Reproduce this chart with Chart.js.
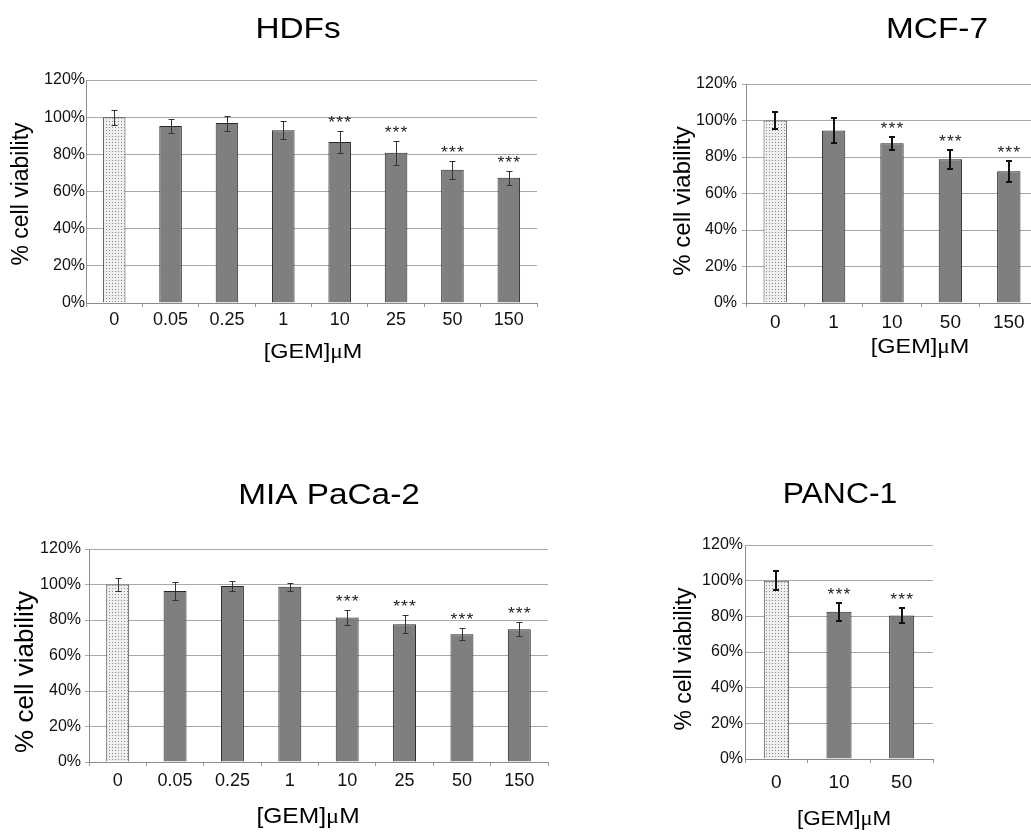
<!DOCTYPE html>
<html><head><meta charset="utf-8">
<script src="https://cdn.jsdelivr.net/npm/chart.js@4.4.1/dist/chart.umd.min.js"></script>
<style>
html,body{margin:0;padding:0;background:#fff;overflow:hidden;width:1031px;height:840px;}
canvas{position:absolute;}
</style></head><body>
<canvas id="c1" width="560" height="380" style="left:0;top:0"></canvas>
<canvas id="c2" width="400" height="380" style="left:660px;top:0"></canvas>
<canvas id="c3" width="560" height="400" style="left:0;top:440px"></canvas>
<canvas id="c4" width="371" height="400" style="left:660px;top:440px"></canvas>
<script>
// ---- data ----
const yTickValues = [0, 20, 40, 60, 80, 100, 120];

const hdfTitle = 'HDFs';
const hdfDoses = ['0', '0.05', '0.25', '1', '10', '25', '50', '150'];
const hdfMeans = [100, 95.3, 96.8, 93.0, 86.6, 80.8, 71.7, 67.4];
const hdfErrors = [4.1, 3.8, 4.0, 4.7, 6.0, 6.6, 4.8, 3.9];
const hdfStars = ['', '', '', '', '***', '***', '***', '***'];

const mcfTitle = 'MCF-7';
const mcfDoses = ['0', '1', '10', '50', '150'];
const mcfMeans = [100, 94.5, 87.5, 78.8, 72.2];
const mcfErrors = [4.9, 6.7, 3.5, 5.3, 5.7];
const mcfStars = ['', '', '***', '***', '***'];

const miaTitle = 'MIA PaCa-2';
const miaDoses = ['0', '0.05', '0.25', '1', '10', '25', '50', '150'];
const miaMeans = [100, 96.4, 99.2, 98.7, 81.4, 77.6, 72.0, 74.8];
const miaErrors = [3.9, 5.1, 3.0, 2.4, 4.2, 5.2, 3.3, 3.8];
const miaStars = ['', '', '', '', '***', '***', '***', '***'];

const pancTitle = 'PANC-1';
const pancDoses = ['0', '10', '50'];
const pancMeans = [100, 82.6, 80.4];
const pancErrors = [5.3, 5.0, 4.0];
const pancStars = ['', '***', '***'];

const yAxisTitle = '% cell viability';
const xAxisTitleParts = ['[GEM]', 'μ', 'M'];

// ---- styling helpers ----
const SANS = '"Liberation Sans", Arial, sans-serif';
const SERIF = '"Liberation Serif", "Times New Roman", serif';

function dotPattern() {
  const c = document.createElement('canvas');
  c.width = 3; c.height = 3;
  const g = c.getContext('2d');
  g.fillStyle = '#efefef'; g.fillRect(0, 0, 3, 3);
  g.fillStyle = '#8a8a8a'; g.fillRect(1, 1, 1, 1);
  return g.createPattern(c, 'repeat');
}

function drawScaled(ctx, parts, cx, baseline, sx) {
  let total = 0;
  const widths = parts.map(p => { ctx.font = p.font; const w = ctx.measureText(p.text).width; total += w; return w; });
  ctx.save();
  ctx.translate(cx, baseline);
  ctx.scale(sx, 1);
  let x = -total / 2;
  ctx.textAlign = 'left';
  ctx.textBaseline = 'alphabetic';
  parts.forEach((p, i) => { ctx.font = p.font; ctx.fillText(p.text, x, 0); x += widths[i]; });
  ctx.restore();
}

const decor = {
  id: 'decor',
  afterDatasetsDraw(chart, args, o) {
    const ctx = chart.ctx, ys = chart.scales.y, meta = chart.getDatasetMeta(0);
    const ds = chart.data.datasets[0];
    ctx.save();
    ctx.strokeStyle = o.errColor;
    ctx.lineWidth = o.errWidth;
    const off = o.errWidth % 2 ? 0.5 : 0;
    meta.data.forEach((bar, i) => {
      const m = ds.data[i], e = o.errors[i];
      const x = Math.round(bar.x) + off;
      const yt = Math.round(ys.getPixelForValue(m + e)) + off;
      const yb = Math.round(ys.getPixelForValue(m - e)) + off;
      ctx.beginPath();
      ctx.moveTo(x, yt); ctx.lineTo(x, yb);
      ctx.moveTo(x - o.capHalf, yt); ctx.lineTo(x + o.capHalf, yt);
      ctx.moveTo(x - o.capHalf, yb); ctx.lineTo(x + o.capHalf, yb);
      ctx.stroke();
      const s = o.stars[i];
      if (s) {
        ctx.fillStyle = '#222';
        ctx.letterSpacing = '1px';
        drawScaled(ctx, [{text: s, font: o.starSize + 'px ' + SANS}], bar.x + 0.5, yt - 3.5, 1.1);
        ctx.letterSpacing = '0px';
      }
    });
    ctx.restore();
  },
  afterDraw(chart, args, o) {
    const ctx = chart.ctx;
    ctx.save();
    ctx.fillStyle = '#000';
    drawScaled(ctx, [{text: o.title, font: o.titleSize + 'px ' + SANS}], o.titleX, o.titleBase, o.sx);
    const xs = o.xTitleSize + 'px ';
    drawScaled(ctx, [
      {text: xAxisTitleParts[0], font: xs + SANS},
      {text: xAxisTitleParts[1], font: xs + SERIF},
      {text: xAxisTitleParts[2], font: xs + SANS}
    ], o.xTitleX, o.xTitleBase, o.sx * 0.97);
    ctx.translate(o.yTitleX, o.yTitleY);
    ctx.rotate(-Math.PI / 2);
    ctx.font = o.yTitleSize + 'px ' + SANS;
    ctx.textAlign = 'center';
    ctx.textBaseline = 'middle';
    ctx.fillText(yAxisTitle, 0, 0);
    ctx.restore();
  }
};

const pattern = dotPattern();

function makeChart(id, doses, means, errors, stars, p) {
  const ctx = document.getElementById(id).getContext('2d');
  return new Chart(ctx, {
    type: 'bar',
    data: {
      labels: doses,
      datasets: [{
        data: means,
        backgroundColor: doses.map((d, i) => i === 0 ? pattern : '#7f7f7f'),
        borderColor: doses.map((d, i) => i === 0 ? '#4a4a4a' : '#262626'),
        borderWidth: 1,
        borderSkipped: 'bottom',
        categoryPercentage: 1.0,
        barPercentage: 0.4
      }]
    },
    options: {
      responsive: false,
      animation: false,
      devicePixelRatio: 1,
      layout: { padding: { left: 0, top: p.top, right: p.right, bottom: p.bottom } },
      plugins: {
        legend: { display: false },
        tooltip: { enabled: false },
        decor: Object.assign({ errors: errors, stars: stars }, p.decor)
      },
      scales: {
        x: {
          offset: true,
          grid: { display: true, drawOnChartArea: false, drawTicks: true, tickLength: 4, color: '#9a9a9a', offset: true },
          border: { display: true, color: '#8c8c8c', width: 1 },
          ticks: { color: '#111', font: { family: SANS, size: p.xTickSize }, padding: p.xTickPad, maxRotation: 0, autoSkip: false },
          afterFit: s => { s.height = 40; }
        },
        y: {
          min: yTickValues[0],
          max: yTickValues[yTickValues.length - 1],
          afterBuildTicks: s => { s.ticks = yTickValues.map(v => ({ value: v })); },
          grid: { color: '#a8a8a8', lineWidth: 1, drawTicks: p.yDrawTicks, tickLength: 4 },
          border: { display: true, color: '#8c8c8c', width: 1 },
          ticks: { color: '#111', font: { family: SANS, size: 16 }, padding: p.yTickPad, callback: v => v + '%' },
          afterFit: s => { s.width = p.yWidth; }
        }
      }
    },
    plugins: [decor]
  });
}

makeChart('c1', hdfDoses, hdfMeans, hdfErrors, hdfStars, {
  top: 80, right: 23, bottom: 37, yWidth: 86, xTickSize: 18, xTickPad: 2, yDrawTicks: false, yTickPad: 1,
  decor: { title: hdfTitle, titleSize: 29, titleX: 298, titleBase: 38, sx: 1.15,
           xTitleSize: 21, xTitleX: 313, xTitleBase: 358,
           yTitleSize: 23, yTitleX: 22, yTitleY: 194,
           errColor: '#333', errWidth: 1, capHalf: 3, starSize: 16 }
});
makeChart('c2', mcfDoses, mcfMeans, mcfErrors, mcfStars, {
  top: 84, right: 22, bottom: 37, yWidth: 86, xTickSize: 19, xTickPad: 4, yDrawTicks: true, yTickPad: 5,
  decor: { title: mcfTitle, titleSize: 29, titleX: 277, titleBase: 38, sx: 1.15,
           xTitleSize: 21, xTitleX: 260, xTitleBase: 353,
           yTitleSize: 24, yTitleX: 23, yTitleY: 201,
           errColor: '#111', errWidth: 2, capHalf: 3, starSize: 16 }
});
makeChart('c3', miaDoses, miaMeans, miaErrors, miaStars, {
  top: 109, right: 12, bottom: 38, yWidth: 89, xTickSize: 18, xTickPad: 4, yDrawTicks: true, yTickPad: 4,
  decor: { title: miaTitle, titleSize: 29, titleX: 329, titleBase: 64, sx: 1.15,
           xTitleSize: 22, xTitleX: 308, xTitleBase: 383,
           yTitleSize: 26, yTitleX: 26, yTitleY: 232,
           errColor: '#333', errWidth: 1, capHalf: 3, starSize: 16 }
});
makeChart('c4', pancDoses, pancMeans, pancErrors, pancStars, {
  top: 105, right: 98, bottom: 41, yWidth: 85, xTickSize: 19, xTickPad: 8, yDrawTicks: false, yTickPad: 2,
  decor: { title: pancTitle, titleSize: 29, titleX: 180, titleBase: 63, sx: 1.1,
           xTitleSize: 21, xTitleX: 184, xTitleBase: 385,
           yTitleSize: 23, yTitleX: 25, yTitleY: 219,
           errColor: '#111', errWidth: 2, capHalf: 3, starSize: 16 }
});
</script>
</body></html>
